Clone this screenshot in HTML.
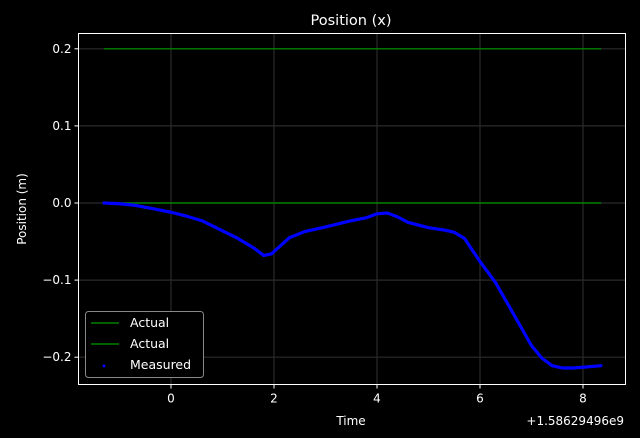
<!DOCTYPE html>
<html><head><meta charset="utf-8"><style>
body{margin:0;background:#000;}
svg{display:block;font-family:"DejaVu Sans","Liberation Sans",sans-serif;}
</style></head><body>
<svg id="c" width="640" height="438" viewBox="0 0 640 438">
<rect width="640" height="438" fill="#000"/>
<text x="351" y="25" fill="#fff" font-size="14.5" text-anchor="middle">Position (x)</text>
<g id="grid"></g><g id="series"></g><g id="axes"></g>
</svg>
<script>
const xTicks=[0,2,4,6,8];
const yTicks=[0.2,0.1,0.0,-0.1,-0.2];
const yTickLabels=["0.2","0.1","0.0","\u22120.1","\u22120.2"];
const actualUpper=[0.2,0.2];
const actualLower=[0,0];
const actualX=[-1.3,8.35];
const measX=[-1.3,-1.0,-0.7,-0.3,0,0.3,0.6,1.0,1.3,1.6,1.8,1.95,2.1,2.3,2.6,3.0,3.5,3.8,4.0,4.2,4.4,4.6,5.0,5.3,5.5,5.7,6.0,6.3,6.6,7.0,7.2,7.4,7.6,7.8,8.0,8.35];
const measY=[0,-0.001,-0.003,-0.008,-0.012,-0.017,-0.023,-0.036,-0.046,-0.058,-0.068,-0.066,-0.057,-0.045,-0.037,-0.031,-0.023,-0.019,-0.014,-0.013,-0.018,-0.025,-0.032,-0.035,-0.038,-0.046,-0.076,-0.103,-0.138,-0.185,-0.201,-0.211,-0.214,-0.214,-0.213,-0.211];
const L=78.5,R=625.5,T=33.5,B=384.5;
const sx=v=>171+v*51.5;
const sy=v=>203-v*771;
const NS="http://www.w3.org/2000/svg";
function mk(p,t,a){const e=document.createElementNS(NS,t);for(const k in a)e.setAttribute(k,a[k]);p.appendChild(e);return e;}
const g=document.getElementById('grid'),s=document.getElementById('series'),ax=document.getElementById('axes');
xTicks.forEach(v=>{const x=sx(v);
 const l=mk(g,'line',{x1:x,x2:x,y1:T,y2:B,stroke:'#2a2a2a','stroke-width':1.2});
 
 
 mk(ax,'line',{x1:x,x2:x,y1:B,y2:B+4,stroke:'#fff'});
 const t=mk(ax,'text',{x:x,y:B+18,fill:'#fff','font-size':12,'text-anchor':'middle'});t.textContent=String(v);
 
 });
yTicks.forEach((v,i)=>{const y=sy(v);
 const l=mk(g,'line',{x1:L,x2:R,y1:y,y2:y,stroke:'#2a2a2a','stroke-width':1.2});
 
 
 mk(ax,'line',{x1:L-4,x2:L,y1:y,y2:y,stroke:'#fff'});
 const t=mk(ax,'text',{x:L-7,y:y+4,fill:'#fff','font-size':12,'text-anchor':'end'});t.textContent=yTickLabels[i];
 
 });
[actualUpper,actualLower].forEach(arr=>{
 const l=mk(s,'polyline',{points:actualX.map((x,i)=>sx(x)+','+sy(arr[i])).join(' '),fill:'none',stroke:'#008000','stroke-width':1.4});
 
 });
const m=mk(s,'polyline',{points:measX.map((x,i)=>sx(x)+','+sy(measY[i])).join(' '),fill:'none',stroke:'#0000ff','stroke-width':3.2,'stroke-linejoin':'round','stroke-linecap':'round'});


const fr=mk(ax,'rect',{x:L,y:T,width:R-L,height:B-T,fill:'none',stroke:'#fff','stroke-width':1});


const xt=mk(ax,'text',{x:351,y:425,fill:'#fff','font-size':12,'text-anchor':'middle'});xt.textContent='Time';


const off=mk(ax,'text',{x:624,y:425,fill:'#fff','font-size':12,'text-anchor':'end'});off.textContent='+1.58629496e9';


const yt=mk(ax,'text',{x:26,y:209,fill:'#fff','font-size':12,'text-anchor':'middle',transform:'rotate(-90 26 209)'});yt.textContent='Position (m)';


const lg=mk(ax,'g',{});


mk(lg,'rect',{x:85.5,y:311.5,width:118,height:66,rx:3,fill:'#000',stroke:'#aaa','stroke-opacity':0.8});
mk(lg,'line',{x1:91,x2:119,y1:323,y2:323,stroke:'#008000','stroke-width':1.4});
mk(lg,'line',{x1:91,x2:119,y1:344,y2:344,stroke:'#008000','stroke-width':1.4});
mk(lg,'circle',{cx:104,cy:366,r:1.5,fill:'#0000ff'});
[['Actual',327],['Actual',348],['Measured',369]].forEach(([tx,y])=>{const t=mk(lg,'text',{x:130,y:y,fill:'#fff','font-size':12.5});t.textContent=tx;
 
 });
</script>
</body></html>
